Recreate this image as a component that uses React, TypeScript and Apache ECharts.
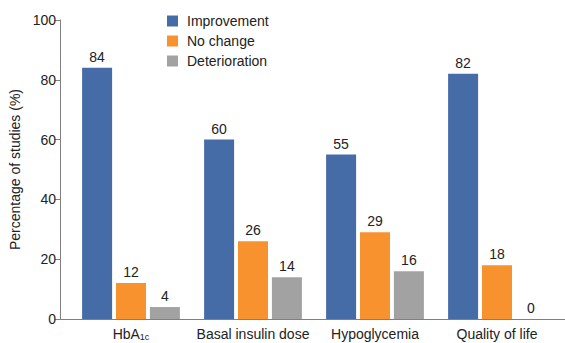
import React, { useEffect, useRef } from "react";
import * as echarts from "echarts";

const categories = ["HbA1c", "Basal insulin dose", "Hypoglycemia", "Quality of life"];
const improvement = [84, 60, 55, 82];
const noChange = [12, 26, 29, 18];
const deterioration = [4, 14, 16, 0];
const seriesNames = ["Improvement", "No change", "Deterioration"];
const colors = ["#466CA7", "#F7922F", "#A2A2A2"];

export default function App() {
  const ref = useRef<HTMLDivElement>(null);
  useEffect(() => {
    const chart = echarts.init(ref.current!, null, { renderer: "svg" });
    const font = "Liberation Sans, Arial, sans-serif";
    const mk = (name: string, data: number[], color: string) => ({
      name,
      type: "bar",
      data,
      barWidth: 30,
      barGap: "13%",
      itemStyle: { color },
      label: {
        show: true,
        position: "top",
        distance: 4,
        color: "#222",
        fontSize: 14,
        fontFamily: font,
      },
    });
    chart.setOption({
      animation: false,
      textStyle: { fontFamily: font },
      grid: { left: 70, right: 7, top: 20, bottom: 24, containLabel: false, outerBoundsMode: "none" },
      legend: {
        orient: "vertical",
        left: 162,
        top: 9,
        itemWidth: 11,
        itemHeight: 11,
        itemGap: 6,
        icon: "rect",
        textStyle: { fontSize: 14, color: "#222", fontFamily: font, padding: [0, 0, 0, 4] },
        data: seriesNames,
      },
      xAxis: {
        type: "category",
        data: categories,
        axisLine: { show: false },
        axisTick: { show: false },
        axisLabel: {
          interval: 0,
          fontSize: 14,
          color: "#222",
          margin: 8,
          fontFamily: font,
          formatter: (v: string) => (v === "HbA1c" ? "{a|HbA}{s|1c}" : v),
          rich: {
            a: { fontSize: 14, color: "#222", fontFamily: font },
            s: { fontSize: 9, color: "#222", fontFamily: font, padding: [5, 0, 0, 0] },
          },
        },
      },
      yAxis: {
        type: "value",
        min: 0,
        max: 100,
        interval: 20,
        offset: 10,
        name: "Percentage of studies (%)",
        nameLocation: "middle",
        nameGap: 32,
        nameRotate: 90,
        nameTextStyle: { fontSize: 14, color: "#222", fontFamily: font },
        axisLine: { show: true, lineStyle: { color: "#808080", width: 1 } },
        axisTick: { show: true, length: 5, lineStyle: { color: "#808080" } },
        axisLabel: { fontSize: 14, color: "#222", margin: 4, fontFamily: font },
        splitLine: { show: false },
      },
      graphic: [
        {
          type: "line",
          shape: { x1: 60, y1: 319.5, x2: 565, y2: 319.5 },
          style: { stroke: "#808080", lineWidth: 1 },
          silent: true,
        },
      ],
      series: [
        mk(seriesNames[0], improvement, colors[0]),
        mk(seriesNames[1], noChange, colors[1]),
        mk(seriesNames[2], deterioration, colors[2]),
      ],
    });
    return () => chart.dispose();
  }, []);
  return <div ref={ref} style={{ width: 565, height: 343, position: "absolute", left: 0, top: 0 }} />;
}
